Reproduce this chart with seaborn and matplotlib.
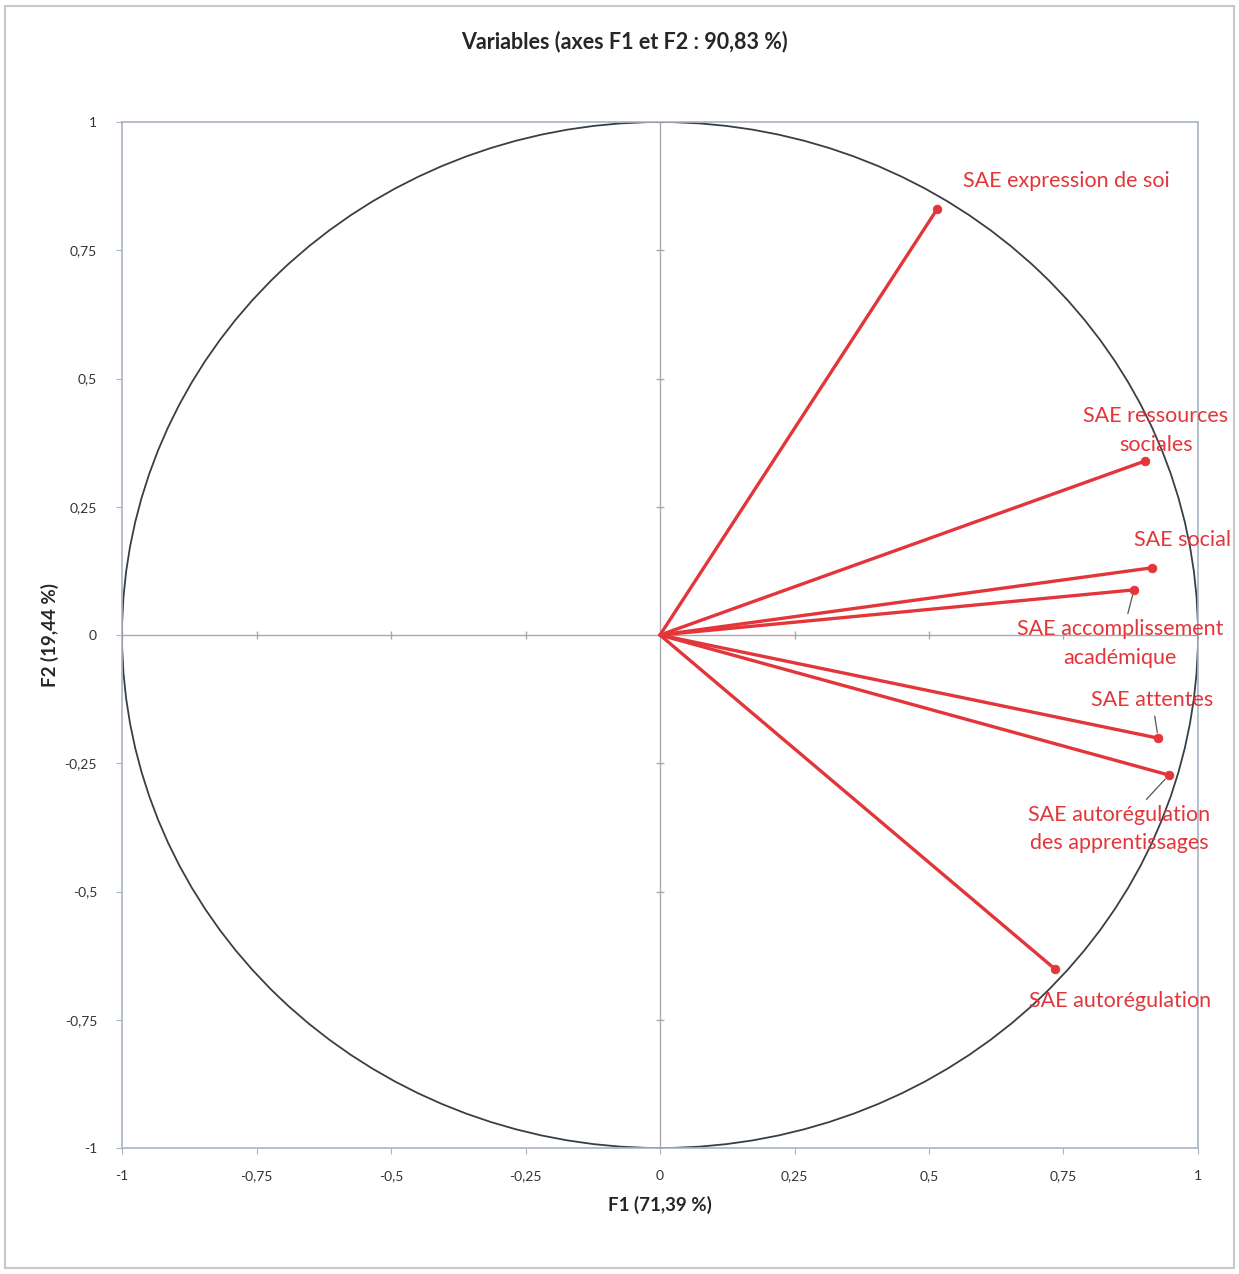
import matplotlib
matplotlib.use('Agg')
import matplotlib.pyplot as plt
from matplotlib.patches import Circle, Rectangle
import numpy as np
import pandas as pd
import seaborn as sns

# variable coordinates on F1 / F2
variables = ['SAE expression de soi',
             'SAE ressources\nsociales',
             'SAE social',
             'SAE accomplissement\nacadémique',
             'SAE attentes',
             'SAE autorégulation\ndes apprentissages',
             'SAE autorégulation']
f1 = [0.515, 0.901, 0.914, 0.881, 0.926, 0.946, 0.734]
f2 = [0.830, 0.339, 0.131, 0.088, -0.201, -0.273, -0.651]

ticks = [-1, -0.75, -0.5, -0.25, 0, 0.25, 0.5, 0.75, 1]
tick_labels = ['-1', '-0,75', '-0,5', '-0,25', '0', '0,25', '0,5', '0,75', '1']

title = 'Variables (axes F1 et F2 : 90,83 %)'
xlabel = 'F1 (71,39 %)'
ylabel = 'F2 (19,44 %)'

# label offsets in pixels (text centre relative to the point), leader line or not
label_offsets = [(129, 28, False), (11, 31, False), (31, 28, False),
                 (-14, -54, True), (-6, 38, True), (-50, -54, True),
                 (65, -32, False)]

red = '#e2363a'
sns.set_style('white')
plt.rcParams['font.family'] = ['Lato', 'DejaVu Sans']

fig = plt.figure(figsize=(12.39, 12.74), dpi=100)
ax = fig.add_axes([0.0985, 0.0989, 0.8684, 0.8053])

# long-form frame: origin + endpoint for each variable
rows = []
for name, x, y in zip(variables, f1, f2):
    rows.append({'var': name, 'F1': 0.0, 'F2': 0.0, 'order': 0})
    rows.append({'var': name, 'F1': x, 'F2': y, 'order': 1})
df = pd.DataFrame(rows)

ax.axhline(0, color='#a9a9a9', lw=1, zorder=1)
ax.axvline(0, color='#a9a9a9', lw=1, zorder=1)
# small tick marks on the zero lines
minor = [t for t in ticks if t != 0]
ax.plot(minor, [0] * len(minor), ls='none', marker='|', ms=6, color='#a9a9a9', zorder=1)
ax.plot([0] * len(minor), minor, ls='none', marker='_', ms=6, color='#a9a9a9', zorder=1)

ax.add_patch(Circle((0, 0), 1, fill=False, ec='#3a3f44', lw=1.3, zorder=2))

sns.lineplot(data=df, x='F1', y='F2', units='var', estimator=None, sort=False,
             color=red, lw=2.4, ax=ax, zorder=3)
sns.scatterplot(data=df[df['order'] == 1], x='F1', y='F2', color=red, s=40,
                edgecolor=red, ax=ax, zorder=4)

for name, x, y, (dx, dy, leader) in zip(variables, f1, f2, label_offsets):
    props = None
    if leader:
        props = dict(arrowstyle='-', color='#555555', lw=0.9, shrinkA=2, shrinkB=4)
    ax.annotate(name, xy=(x, y), xytext=(dx, dy), textcoords='offset pixels',
                ha='center', va='center', color=red, fontsize=15.5,
                linespacing=1.55, arrowprops=props, zorder=5)

ax.set_xlim(-1, 1)
ax.set_ylim(-1, 1)
ax.set_xticks(ticks)
ax.set_xticklabels(tick_labels)
ax.set_yticks(ticks)
ax.set_yticklabels(tick_labels)
ax.tick_params(axis='both', labelsize=10, length=4, color='#a8b4c0', direction='out',
               colors='#333333')
ax.tick_params(axis='x', pad=12)
ax.tick_params(axis='y', pad=14)
ax.tick_params(axis='both', which='both', bottom=True, left=True)
for s in ax.spines.values():
    s.set_color('#a8b4c0')
    s.set_linewidth(1.2)

ax.set_xlabel(xlabel, fontsize=13.5, fontweight='bold', labelpad=10)
ax.set_ylabel(ylabel, fontsize=13.5, fontweight='bold', labelpad=4)
fig.suptitle(title, x=0.504, y=0.976, fontsize=15.5, fontweight='bold')

# outer frame of the picture
fig.patches.append(Rectangle((0.004, 0.005), 0.992, 0.99, transform=fig.transFigure,
                             fill=False, ec='#c8c8c8', lw=1.5))

fig.savefig('out.png', dpi=100)
